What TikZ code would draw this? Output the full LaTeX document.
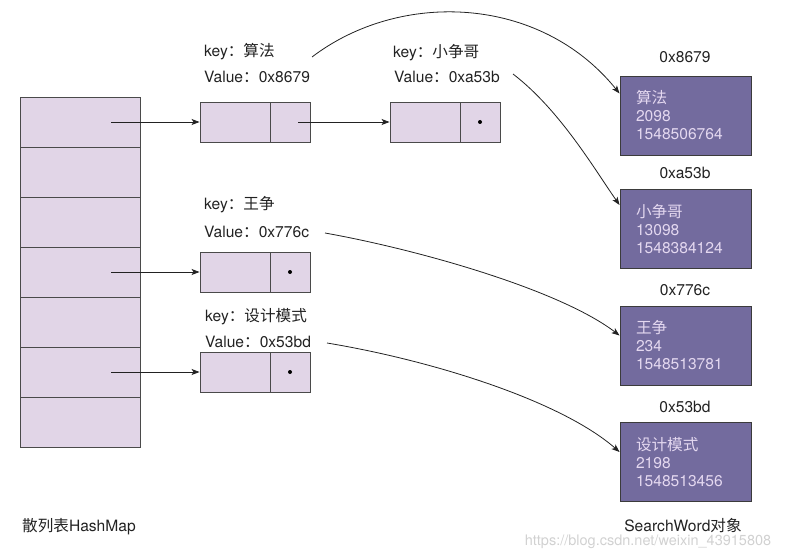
\documentclass[tikz,border=0pt]{standalone}
\usepackage{fontspec}
\setmainfont{TeX Gyre Heros}
\newfontfamily\cjk{Noto Sans CJK SC}
\usetikzlibrary{arrows.meta}
\definecolor{lightp}{HTML}{E1D5E7}
\definecolor{darkp}{HTML}{736B9E}
\definecolor{edgec}{HTML}{4A4A4A}
\definecolor{txt}{HTML}{222222}
\definecolor{objtxt}{HTML}{E4D8F0}
\begin{document}
\begin{tikzpicture}[x=1pt,y=-1pt,
  cell/.style={draw=edgec, fill=lightp, line width=0.9pt, minimum width=120pt, minimum height=50pt, inner sep=0pt},
  parta/.style={draw=edgec, fill=lightp, line width=0.9pt, minimum width=70pt, minimum height=40pt, inner sep=0pt},
  partb/.style={draw=edgec, fill=lightp, line width=0.9pt, minimum width=40pt, minimum height=40pt, inner sep=0pt},
  lbl/.style={text=txt, font=\fontsize{15.6}{18}\selectfont, inner sep=0pt, anchor=west},
  addr/.style={text=txt, font=\fontsize{15.6}{18}\selectfont, inner sep=0pt},
  obj/.style={draw=edgec!80!black, fill=darkp, line width=0.9pt, minimum height=79pt, text width=99pt, inner xsep=16pt, inner ysep=0pt, align=left, text=objtxt, font=\fontsize{15.6}{18}\selectfont},
  arr/.style={draw=txt, line width=0.8pt, -{Stealth[length=8pt,width=6pt,inset=2pt]}}
]
\useasboundingbox (0,0) rectangle (794,556);
% hash table
\foreach \i in {0,...,6} \node[cell] (h\i) at (80,{122+50*\i}) {};
% entries
\node[parta] (e1a) at (235,122) {};
\node[partb] (e1b) at (290,122) {};
\node[parta] (e2a) at (425,122) {};
\node[partb] (e2b) at (480,122) {};
\node[parta] (e3a) at (235,272) {};
\node[partb] (e3b) at (290,272) {};
\node[parta] (e4a) at (235,372) {};
\node[partb] (e4b) at (290,372) {};
\fill[black] (e2b.center) circle (2);
\fill[black] (e3b.center) circle (2);
\fill[black] (e4b.center) circle (2);
% labels
\node[lbl] (k1) at (204,52) {key{\cjk ：算法}};
\node[lbl] (v1) at (204,77) {Value{\cjk ：}0x8679};
\node[lbl] (k2) at (393,53) {key{\cjk ：小争哥}};
\node[lbl] (v2) at (394,77) {Value{\cjk ：}0xa53b};
\node[lbl] (k3) at (204,205) {key{\cjk ：王争}};
\node[lbl] (v3) at (204,232) {Value{\cjk ：}0x776c};
\node[lbl] (k4) at (205,317) {key{\cjk ：设计模式}};
\node[lbl] (v4) at (205,342) {Value{\cjk ：}0x53bd};
% objects
\node[obj] (o1) at (685.5,115.5) {{\cjk 算法}\\2098\\1548506764};
\node[obj] (o2) at (685.5,229) {{\cjk 小争哥}\\13098\\1548384124};
\node[obj] (o3) at (685.5,345.5) {{\cjk 王争}\\234\\1548513781};
\node[obj] (o4) at (685.5,462) {{\cjk 设计模式}\\2198\\1548513456};
\node[addr] (a1) at (685,57) {0x8679};
\node[addr] (a2) at (685,173) {0xa53b};
\node[addr] (a3) at (685,290) {0x776c};
\node[addr] (a4) at (685,407) {0x53bd};
\node[addr] (t2) at (683,526) {SearchWord{\cjk 对象}};
\node[lbl] (t1) at (22,527) {{\cjk 散列表}HashMap};
\node[text=black!18, font=\fontsize{14.5}{17}\selectfont, inner sep=0pt] (wm) at (648,542) {https://blog.csdn.net/weixin\_43915808};
% straight arrows
\coordinate (s1) at (111,122);
\coordinate (s2) at (111,272);
\coordinate (s3) at (111,372);
\coordinate (s4) at (298,122);
\draw[arr] (s1) -- (e1a.west);
\draw[arr] (s2) -- (e3a.west);
\draw[arr] (s3) -- (e4a.west);
\draw[arr] (s4) -- (e2a.west);
% curved arrows
\coordinate (c1) at (312,57);
\coordinate (c2) at (513,74);
\coordinate (c3) at (325,233);
\coordinate (c4) at (327,343);
\draw[arr] (c1) .. controls (400,-10) and (540,-5) .. ([yshift=22pt]o1.west);
\draw[arr] (c2) .. controls (560,110) and (595,170) .. ([yshift=24pt]o2.west);
\draw[arr] (c3) .. controls (420,250) and (560,290) .. ([yshift=10pt]o3.west);
\draw[arr] (c4) .. controls (430,360) and (560,400) .. ([yshift=10pt]o4.west);
\end{tikzpicture}
\end{document}
